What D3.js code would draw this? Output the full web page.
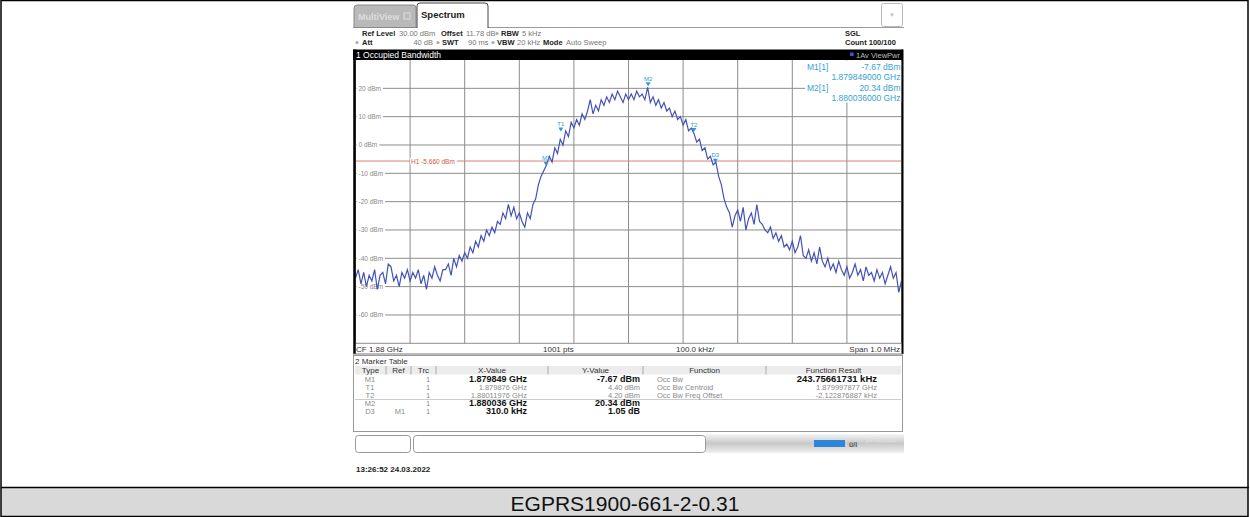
<!DOCTYPE html>
<html><head><meta charset="utf-8">
<script src="https://cdn.jsdelivr.net/npm/d3@7"></script>
<style>body{margin:0;background:#fff;} svg{display:block;} text{font-family:"Liberation Sans",Arial,sans-serif;}</style>
</head><body><svg id="c" width="1250" height="517"></svg>
<script>
// ---------- data ----------
const startMHz = 1879.5, stopMHz = 1880.5;
const yTicks = [20, 10, 0, -10, -20, -30, -40, -50, -60];
const xDivisions = [0,1,2,3,4,5,6,7,8,9,10];
const traceDbm = [
 -47,-44,-49,-45,-50,-46,-48,-44,-51,-46,-45,-49,-42,-43,-48,-46,-50,-45,-47,-44,-48,
 -45,-47,-44,-49,-46,-51,-45,-47,-43,-46,-48,-44,-44,-42,-46,-40,-43,-39,-41,-38,
 -40,-36,-38,-34,-36,-32,-34,-30,-32,-29,-31,-27,-28,-24,-26,-21,-25,-22,-26,-24,
 -27,-29,-24,-26,-21,-19,-14,-11,-9,-7,
 -4,-6,-1,-3,2,0,5,3,8,6,9,7,11,9,12,16,11,14,12,16,14,17,15,18,16,19,17,15,18,16,
 18,16,19,17,18,16,20.3,15,17,14,16,13,15,12,13,10,12,9,10,7,9,5,6,4,1,2,-2,-1,-5,-4,-7,-6,-11,-14,-19,-22,
 -24,-29,-25,-23,-27,-22,-30,-26,-24,-28,-21,-27,-28,-30,-31,-29,-33,-31,-34,-32,
 -36,-35,-37,-34,-38,-36,-32,-39,-40,-37,-41,-38,-42,-36,-41,-43,-40,-44,-42,-45,
 -41,-44,-46,-43,-47,-45,-42,-46,-44,-48,-43,-46,-45,-48,-44,-47,-45,-49,-46,-43,
 -47,-45,-52,-48
];
const markerNames = ["M1","T1","T2","M2","D3"];
const markerFreqMHz = [1879.849, 1879.876, 1880.11976, 1880.036, 1880.159];
const markerDbm = [-7.67, 4.40, 4.20, 20.34, -6.62];
const h1Dbm = -5.66;
const infoLines = [["M1[1]","-7.67 dBm"],["","1.879849000 GHz"],["M2[1]","20.34 dBm"],["","1.880036000 GHz"]];
const tblHeaders = ["Type","Ref","Trc","X-Value","Y-Value","Function","Function Result"];
const tblType = ["M1","T1","T2","M2","D3"];
const tblRef = ["","","","","M1"];
const tblTrc = ["1","1","1","1","1"];
const tblX = ["1.879849 GHz","1.879876 GHz","1.88011976 GHz","1.880036 GHz","310.0 kHz"];
const tblY = ["-7.67 dBm","4.40 dBm","4.20 dBm","20.34 dBm","1.05 dB"];
const tblFunc = ["Occ Bw","Occ Bw Centroid","Occ Bw Freq Offset","",""];
const tblResult = ["243.75661731 kHz","1.879997877 GHz","-2.122876887 kHz","",""];
const tblBold = [true,false,false,true,true];
const caption = "EGPRS1900-661-2-0.31";

// ---------- layout ----------
const svg = d3.select("#c");
const PL = 355.5, PR = 901.5, PT = 60, PB = 343.3;
const x = d3.scaleLinear().domain([startMHz, stopMHz]).range([PL, PR]);
const y = d3.scaleLinear().domain([-70, 30]).range([PB, PT]);
const step = (stopMHz - startMHz) / (traceDbm.length - 1);

svg.append("rect").attr("width",1250).attr("height",517).attr("fill","#fff");
// caption band
svg.append("rect").attr("x",1).attr("y",488).attr("width",1247).attr("height",29).attr("fill","#d9d9d9");
svg.append("line").attr("x1",1).attr("x2",1249).attr("y1",487.5).attr("y2",487.5).attr("stroke","#000").attr("stroke-width",1.5);
svg.append("rect").attr("x",1).attr("y",0.5).attr("width",1247).attr("height",516).attr("fill","none").attr("stroke","#000").attr("stroke-width",1.5);
svg.append("text").attr("x",625).attr("y",511).attr("text-anchor","middle").attr("font-size",21).attr("fill","#111").text(caption);

const g = svg.append("g");
// ---- tabs ----
g.append("line").attr("x1",353).attr("x2",904).attr("y1",27.5).attr("y2",27.5).attr("stroke","#9a9a9a");
g.append("path").attr("d","M354,27.5 V8 Q354,5 357,5 H413 Q416,5 416,8 V27.5 Z").attr("fill","#b9b9b9").attr("stroke","#8a8a8a");
g.append("text").attr("x",358).attr("y",20).attr("font-size",9).attr("font-weight","bold").attr("fill","#dcdcdc").text("MultiView");
g.append("rect").attr("x",404).attr("y",13).attr("width",6).attr("height",6).attr("fill","none").attr("stroke","#e0e0e0");
g.append("path").attr("d","M417,28 V6 Q417,3 420,3 H485 Q488,3 488,6 V28").attr("fill","#fff").attr("stroke","#444").attr("stroke-width",1);
g.append("text").attr("x",421).attr("y",18).attr("font-size",9.5).attr("font-weight","bold").attr("fill","#222").text("Spectrum");
g.append("rect").attr("x",881.5).attr("y",3.5).attr("width",21).attr("height",23).attr("rx",2).attr("fill","#fff").attr("stroke","#bbb");
g.append("text").attr("x",892).attr("y",17).attr("text-anchor","middle").attr("font-size",6).attr("fill","#bbb").text("▼");

// ---- header rows ----
function hdr(xp, yp, t, bold, anchor) {
  g.append("text").attr("x",xp).attr("y",yp).attr("font-size",7.5).attr("fill", bold ? "#222" : "#777")
   .attr("font-weight", bold ? "bold" : "normal").attr("text-anchor", anchor || "start").text(t);
}
function dot(xp, yp) { g.append("circle").attr("cx",xp).attr("cy",yp).attr("r",1.6).attr("fill","#aaa"); }
hdr(362,36,"Ref Level",true); hdr(399,36,"30.00 dBm",false);
hdr(441,36,"Offset",true); hdr(466,36,"11.78 dB",false); dot(497,33.5);
hdr(501,36,"RBW",true); hdr(522,36,"5 kHz",false);
dot(357,42.5); hdr(362,45,"Att",true); hdr(433,45,"40 dB",false,"end"); dot(438,42.5);
hdr(442,45,"SWT",true); hdr(468,45,"90 ms",false); dot(493,42.5);
hdr(497,45,"VBW",true); hdr(517,45,"20 kHz",false);
hdr(543,45,"Mode",true); hdr(566,45,"Auto Sweep",false);
hdr(845,36,"SGL",true); hdr(845,45,"Count 100/100",true);

// ---- title bar ----
g.append("rect").attr("x",353).attr("y",49.5).attr("width",550).attr("height",10.5).attr("fill","#000");
g.append("text").attr("x",356).attr("y",58).attr("font-size",8.5).attr("fill","#fff").text("1 Occupied Bandwidth");
const avT = g.append("text").attr("x",900).attr("y",58).attr("text-anchor","end").attr("font-size",7.5).attr("fill","#bbb").text("1Av ViewPwr");
g.append("rect").attr("x",900 - avT.node().getComputedTextLength() - 6).attr("y",52.5).attr("width",3.5).attr("height",3.5).attr("fill","#3a5ad8");

// ---- plot ----
const plot = g.append("g");
plot.append("rect").attr("x",PL).attr("y",PT).attr("width",PR-PL).attr("height",PB-PT).attr("fill","#fff");
plot.selectAll("line.vg").data(xDivisions).join("line").attr("class","vg")
  .attr("x1",d=>x(startMHz + d*0.1)).attr("x2",d=>x(startMHz + d*0.1))
  .attr("y1",PT).attr("y2",PB).attr("stroke","#8c8c8c").attr("stroke-width",1);
plot.selectAll("line.hg").data(yTicks.concat([-70])).join("line").attr("class","hg")
  .attr("x1",PL).attr("x2",PR).attr("y1",d=>y(d)).attr("y2",d=>y(d)).attr("stroke","#8c8c8c").attr("stroke-width",1);
// y labels
const yl = plot.selectAll("g.yl").data(yTicks).join("g").attr("class","yl");
yl.append("rect").attr("x",PL+1).attr("y",d=>y(d)-4).attr("height",8).attr("fill","#fff");
yl.append("text").attr("x",PL+3).attr("y",d=>y(d)+2.5).attr("font-size",6.5).attr("fill","#888").text(d=>d+" dBm");
yl.each(function(){ const t=d3.select(this).select("text").node(); d3.select(this).select("rect").attr("width", t.getComputedTextLength()+4); });
// H1 line
plot.append("line").attr("x1",PL).attr("x2",PR).attr("y1",y(h1Dbm)).attr("y2",y(h1Dbm)).attr("stroke","#d9806f").attr("stroke-width",1);
const h1t = plot.append("text").attr("x",x(1879.6)+1).attr("y",y(h1Dbm)+2.5).attr("font-size",6.5).attr("fill","#d2553f").text("H1  -5.660 dBm");
plot.insert("rect", () => h1t.node()).attr("x",x(1879.6)).attr("y",y(h1Dbm)-3.5).attr("width",h1t.node().getComputedTextLength()+3).attr("height",7).attr("fill","#fff");
// trace
const line = d3.line().x((d,i)=>x(startMHz + i*step)).y(d=>y(d));
plot.append("path").datum(traceDbm).attr("d",line).attr("fill","none").attr("stroke","#4452b8").attr("stroke-width",1.2);
// markers
markerNames.forEach((m,i)=>{
  const mx = x(markerFreqMHz[i]), my = y(markerDbm[i]);
  plot.append("path").attr("d",`M${mx-2.5},${my-5} L${mx+2.5},${my-5} L${mx},${my-1} Z`).attr("fill","#2a9ad6");
  plot.append("text").attr("x",mx).attr("y",my-6.5).attr("text-anchor","middle").attr("font-size",6).attr("fill","#2a9ad6").text(m);
});
// info box
plot.append("rect").attr("x",805).attr("y",PT+0.5).attr("width",PR-805).attr("height",42).attr("fill","#fff");
const infoY = [69.5, 79.5, 91, 101];
infoLines.forEach((r,i)=>{
  if (r[0]) plot.append("text").attr("x",807).attr("y",infoY[i]).attr("font-size",8.5).attr("fill","#35a2d2").text(r[0]);
  plot.append("text").attr("x",PR-1).attr("y",infoY[i]).attr("text-anchor","end").attr("font-size",8.5).attr("fill","#35a2d2").text(r[1]);
});
// frame
g.append("line").attr("x1",354.5).attr("x2",354.5).attr("y1",49.5).attr("y2",354).attr("stroke","#000").attr("stroke-width",2.5);
g.append("line").attr("x1",902.5).attr("x2",902.5).attr("y1",49.5).attr("y2",354).attr("stroke","#000").attr("stroke-width",2);
// bottom info row
function bi(xp, t, anchor){ g.append("text").attr("x",xp).attr("y",351.5).attr("font-size",8).attr("fill","#333").attr("text-anchor",anchor||"start").text(t); }
bi(356,"CF 1.88 GHz"); bi(543,"1001 pts"); bi(676,"100.0 kHz/"); bi(900,"Span 1.0 MHz","end");
g.append("line").attr("x1",353).attr("x2",903).attr("y1",354).attr("y2",354).attr("stroke","#777");

// ---- marker table ----
g.append("rect").attr("x",353.5).attr("y",355.5).attr("width",549).attr("height",76).attr("fill","#fff").attr("stroke","#999");
g.append("text").attr("x",355).attr("y",364).attr("font-size",8).attr("fill","#333").text("2 Marker Table");
g.append("rect").attr("x",355).attr("y",366).attr("width",546).attr("height",8.5).attr("fill","#ececec");
const colEdges = [355, 386, 411, 436, 548, 643, 766, 901];
colEdges.slice(1,-1).forEach(cx=> g.append("line").attr("x1",cx).attr("x2",cx).attr("y1",366).attr("y2",374.5).attr("stroke","#aaa"));
tblHeaders.forEach((h,i)=>{
  g.append("text").attr("x",(colEdges[i]+colEdges[i+1])/2).attr("y",373).attr("text-anchor","middle").attr("font-size",8).attr("fill","#333").text(h);
});
const rowY = [381.5, 389.5, 397.5, 406, 414];
g.append("line").attr("x1",355).attr("x2",901).attr("y1",399.5).attr("y2",399.5).attr("stroke","#ccc");
tblType.forEach((t,i)=>{
  const b = tblBold[i], ry = rowY[i];
  const gray = "#8a8a8a";
  const bs = 9;
  g.append("text").attr("x",370).attr("y",ry).attr("text-anchor","middle").attr("font-size",7.5).attr("fill",gray).text(t);
  g.append("text").attr("x",400).attr("y",ry).attr("text-anchor","middle").attr("font-size",7.5).attr("fill",gray).text(tblRef[i]);
  g.append("text").attr("x",428).attr("y",ry).attr("text-anchor","middle").attr("font-size",7.5).attr("fill",gray).text(tblTrc[i]);
  g.append("text").attr("x",527).attr("y",ry).attr("text-anchor","end").attr("font-size",b?bs:7.5).attr("font-weight",b?"bold":"normal").attr("fill",b?"#111":gray).text(tblX[i]);
  g.append("text").attr("x",640).attr("y",ry).attr("text-anchor","end").attr("font-size",b?bs:7.5).attr("font-weight",b?"bold":"normal").attr("fill",b?"#111":gray).text(tblY[i]);
  g.append("text").attr("x",657).attr("y",ry).attr("font-size",7.5).attr("fill",gray).text(tblFunc[i]);
  const rb = i===0;
  g.append("text").attr("x",877).attr("y",ry).attr("text-anchor","end").attr("font-size",rb?bs+0.5:7.5).attr("font-weight",rb?"bold":"normal").attr("fill",rb?"#111":gray).text(tblResult[i]);
});

// ---- status bar ----
const grad = svg.append("defs").append("linearGradient").attr("id","sb").attr("x1",0).attr("x2",0).attr("y1",0).attr("y2",1);
grad.append("stop").attr("offset",0).attr("stop-color","#f4f4f4");
grad.append("stop").attr("offset",0.5).attr("stop-color","#c8c8c8");
grad.append("stop").attr("offset",1).attr("stop-color","#f0f0f0");
g.append("rect").attr("x",706).attr("y",434).attr("width",198).attr("height",19).attr("fill","url(#sb)");
g.append("rect").attr("x",355.5).attr("y",435.5).attr("width",55).attr("height",17).attr("rx",3).attr("fill","#fff").attr("stroke","#999");
g.append("rect").attr("x",413.5).attr("y",435.5).attr("width",292).attr("height",17).attr("rx",3).attr("fill","#fff").attr("stroke","#999");
g.append("rect").attr("x",814).attr("y",440).attr("width",31).attr("height",7).attr("fill","#2e86d8");
g.append("text").attr("x",849).attr("y",446.5).attr("font-size",7).attr("font-weight","bold").attr("fill","#555").text("ü/i");
g.append("text").attr("x",896).attr("y",442).attr("text-anchor","end").attr("font-size",6).attr("fill","#e2e2e2").text("24.03.2022");
g.append("text").attr("x",356).attr("y",471.5).attr("font-size",8).attr("font-weight","bold").attr("fill","#222").text("13:26:52  24.03.2022");
</script></body></html>
